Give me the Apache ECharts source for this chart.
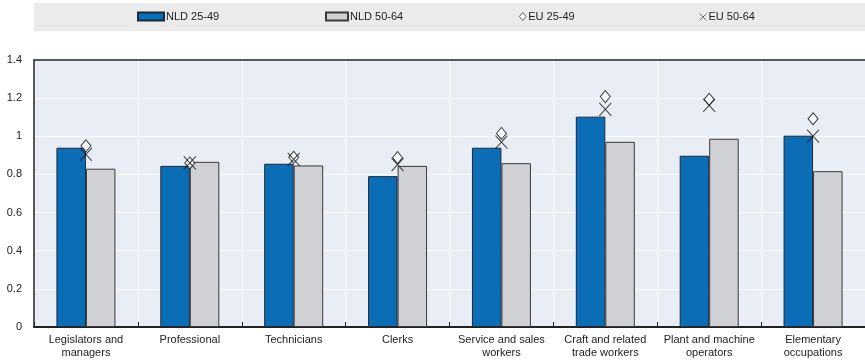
<!DOCTYPE html>
<html>
<head>
<meta charset="utf-8">
<script src="https://cdn.jsdelivr.net/npm/echarts@6/dist/echarts.min.js"></script>
<style>
html,body{margin:0;padding:0;background:#fff;}
#chart{width:865px;height:363px;}
</style>
</head>
<body>
<div id="chart"></div>
<script>
const categories = ['Legislators and\nmanagers','Professional','Technicians','Clerks','Service and sales\nworkers','Craft and related\ntrade workers','Plant and machine\noperators','Elementary\noccupations'];
const nld2549 = [0.94, 0.845, 0.856, 0.791, 0.94, 1.103, 0.898, 1.003];
const nld5064 = [0.83, 0.866, 0.847, 0.845, 0.859, 0.971, 0.987, 0.817];
const eu2549 = [0.95, 0.86, 0.89, 0.888, 1.015, 1.208, 1.194, 1.092];
const eu5064 = [0.905, 0.86, 0.879, 0.852, 0.969, 1.141, 1.162, 1.001];
const seriesNames = ['NLD 25-49', 'NLD 50-64', 'EU 25-49', 'EU 50-64'];

const FONT = '"Liberation Sans Narrow", "Liberation Sans", Arial, sans-serif';
const XPATH = 'path://M0,0L10,10M10,0L0,10';
const DIAMOND = 'path://M5,0L10,6L5,12L0,6Z';

const chart = echarts.init(document.getElementById('chart'), null, {renderer: 'canvas'});
const legendText = {fontSize: 11, color: '#222', fontFamily: FONT, padding: [0, 0, 0, -3]};
function legend(name, left, extra) {
  return Object.assign({
    data: [name], left: left, top: 11, padding: 0, itemGap: 0,
    textStyle: legendText, selectedMode: false
  }, extra);
}
chart.setOption({
  animation: false,
  graphic: [{
    type: 'rect', left: 34, top: 3, shape: {width: 831, height: 28},
    style: {fill: '#ebebeb'}, silent: true, z: -10
  }],
  legend: [
    legend(seriesNames[0], 137, {itemWidth: 26, itemHeight: 8, icon: 'rect'}),
    legend(seriesNames[1], 325, {itemWidth: 22, itemHeight: 8, icon: 'rect'}),
    legend(seriesNames[2], 519, {itemWidth: 7, itemHeight: 8, icon: DIAMOND, itemStyle: {borderWidth: 0.8}}),
    legend(seriesNames[3], 697, {itemWidth: 7, itemHeight: 8, icon: XPATH, itemStyle: {borderWidth: 0.7}})
  ],
  grid: {left: 34, right: 0, top: 60, bottom: 36, show: true, backgroundColor: '#e9edf6', borderWidth: 0},
  xAxis: [{
    type: 'category', data: categories,
    axisLine: {show: true, lineStyle: {color: '#222', width: 2}},
    axisTick: {show: true, inside: true, length: 5, lineStyle: {color: '#222'}},
    splitLine: {show: true, lineStyle: {color: '#ffffff', width: 1}},
    axisLabel: {interval: 0, fontSize: 11, color: '#222', fontFamily: FONT, lineHeight: 13, margin: 6}
  }, {
    type: 'category', data: categories, position: 'top',
    axisLine: {show: true, onZero: false, lineStyle: {color: '#222', width: 1.5}},
    axisTick: {show: false}, axisLabel: {show: false}, splitLine: {show: false}
  }],
  yAxis: {
    type: 'value', min: 0, max: 1.4, interval: 0.2,
    axisLine: {show: true, lineStyle: {color: '#222', width: 1.5}},
    axisTick: {show: false},
    splitLine: {show: true, lineStyle: {color: '#ffffff', width: 1}},
    axisLabel: {fontSize: 11, color: '#222', fontFamily: FONT, margin: 12}
  },
  series: [{
    name: seriesNames[0], type: 'bar', data: nld2549, barWidth: 29.5, barGap: '0%',
    itemStyle: {color: '#0a6db5', borderColor: '#1d2a3a', borderWidth: 1}
  }, {
    name: seriesNames[1], type: 'bar', data: nld5064, barWidth: 29.5, barGap: '0%',
    itemStyle: {color: '#d0d1d4', borderColor: '#3a3a3a', borderWidth: 1}
  }, {
    name: seriesNames[2], type: 'scatter', data: eu2549, symbol: DIAMOND, symbolSize: [10, 12], z: 5,
    itemStyle: {color: '#ffffff', borderColor: '#111', borderWidth: 1}
  }, {
    name: seriesNames[3], type: 'scatter', data: eu5064, symbol: XPATH, symbolSize: [12, 13], z: 6,
    itemStyle: {color: 'none', borderColor: '#111', borderWidth: 1}
  }]
});
</script>
</body>
</html>
